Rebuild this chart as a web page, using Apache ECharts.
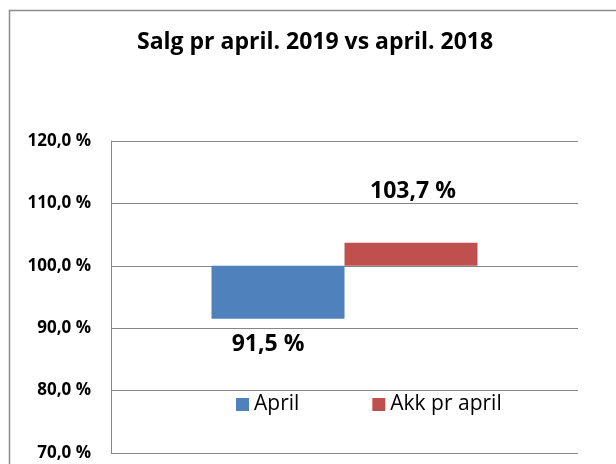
<!DOCTYPE html>
<html>
<head>
<meta charset="utf-8">
<script src="https://cdn.jsdelivr.net/npm/echarts@6/dist/echarts.min.js"></script>
<style>
  html,body{margin:0;padding:0;background:#fff;}
  #chart{width:616px;height:464px;}
</style>
</head>
<body>
<div id="chart"></div>
<script>
// data
var seriesNames=['April','Akk pr april'];
var seriesValues=[91.5,103.7];
var baseLine=100;
var axisMin=70, axisMax=120, axisStep=10;

var colors=['#4F81BD','#C0504D'];
var fontName='"Open Sans", sans-serif';

function pct(v){
	return v.toFixed(1).replace('.',',')+' %';
}

var series=[];
for(var i=0;i<seriesNames.length;i++){
	var v=seriesValues[i];
	var lo=Math.min(v,baseLine);
	var hi=Math.max(v,baseLine);
	var below=v<baseLine;
	// invisible part up to the lower end
	series.push({
		type:'bar',
		stack:'s'+i,
		barWidth:133,
		barGap:0,
		silent:true,
		itemStyle:{color:'rgba(0,0,0,0)'},
		data:[lo]
	});
	series.push({
		type:'bar',
		name:seriesNames[i],
		stack:'s'+i,
		barWidth:133,
		barGap:0,
		itemStyle:{color:colors[i]},
		label:{
			show:true,
			position:below?'bottom':'top',
			distance:below?14:40,
			offset:below?[-10,0]:[2,0],
			formatter:(function(val){return function(){return pct(val);};})(v),
			fontFamily:fontName,
			fontWeight:'bold',
			fontSize:23,
			color:'#000'
		},
		data:[hi-lo]
	});
}

var myChart=echarts.init(document.getElementById('chart'),null,{renderer:'canvas'});
var option={
	backgroundColor:'#fff',
	animation:false,
	title:{
		text:'Salg pr april. 2019 vs april. 2018',
		left:132,
		top:26,
		textStyle:{fontFamily:fontName,fontWeight:'bold',fontSize:23,color:'#000'}
	},
	graphic:[{
		type:'rect',
		shape:{x:9.5,y:10.5,width:640,height:480},
		style:{fill:'none',stroke:'#8c8c8c',lineWidth:1.5},
		silent:true
	}],
	legend:{
		data:seriesNames,
		left:236,
		top:394,
		padding:0,
		icon:'rect',
		itemWidth:13,
		itemHeight:13,
		itemGap:73,
		textStyle:{fontFamily:fontName,fontSize:21,color:'#000'}
	},
	grid:{left:111,top:141,right:38,bottom:11},
	xAxis:{
		type:'category',
		data:['Salg'],
		axisLine:{show:false},
		axisTick:{show:false},
		axisLabel:{show:false}
	},
	yAxis:{
		type:'value',
		min:axisMin,
		max:axisMax,
		interval:axisStep,
		axisLine:{show:true,lineStyle:{color:'#868686',width:1}},
		axisTick:{show:false},
		splitLine:{lineStyle:{color:'#868686',width:1}},
		axisLabel:{
			margin:20,
			formatter:function(v){return pct(v);},
			fontFamily:fontName,
			fontWeight:'bold',
			fontSize:17,
			color:'#000'
		}
	},
	series:series
};
myChart.setOption(option);
</script>
</body>
</html>
